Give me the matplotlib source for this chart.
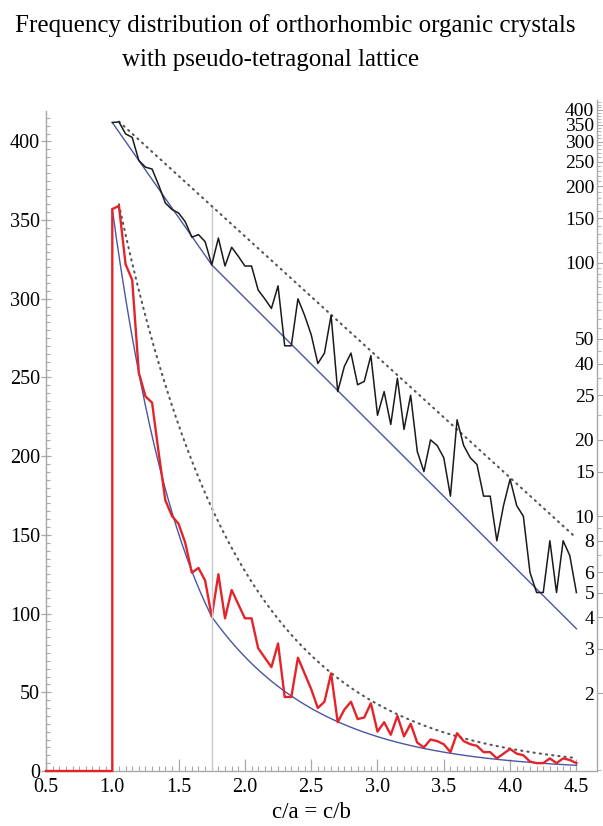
import numpy as np
import matplotlib.pyplot as plt
from matplotlib.ticker import FixedLocator, NullFormatter

plt.rcParams['font.family'] = ['Liberation Serif', 'DejaVu Serif']

# histogram bins of c/a (step 0.05) and counts per bin
c_over_a = np.round(np.arange(1.0, 4.5001, 0.05), 2)
counts = [357, 359, 322, 312, 253, 238, 234, 202, 172, 162,
          157, 145, 126, 129, 121, 98, 125, 97, 115, 106,
          97, 97, 78, 72, 66, 81, 47, 47, 72, 62,
          52, 40, 44, 62, 31, 39, 44, 33, 34, 43,
          25, 31, 23, 35, 22, 30, 18, 15, 20, 19,
          17, 12, 24, 19, 17, 16, 12, 12, 8, 11,
          14, 11, 10, 6, 5, 5, 8, 5, 8, 7, 5]
base_x = [0.5, 1.0]
base_n = [0, 0]

# exponential fit (two regimes split at c/a = 1.75) and upper envelope
fit_x = [1.0, 1.75, 4.5]
fit_n = [357, 98, 3.6]
upper_x = [1.05, 4.5]
upper_n = [360, 8.2]
split = 1.75

right_ticks = [2, 3, 4, 5, 6, 8, 10, 15, 20, 30, 40, 50, 100, 150, 200, 250, 300, 350, 400]
right_labels = ['2', '3', '4', '5', '6', '8', '10', '15', '20', '25', '40', '50',
                '100', '150', '200', '250', '300', '350', '400']


def log_curve(xp, yp, n=400):
    xs = np.linspace(xp[0], xp[-1], n)
    return xs, 10 ** np.interp(xs, xp, np.log10(yp))


red = '#e3242b'
blue = '#4b55a3'
gray = '#a8a8a8'

fig = plt.figure(figsize=(6.03, 8.26), dpi=100)
ax = fig.add_axes([46 / 603, 55 / 826, 551 / 603, 671 / 826])
ax.set_xlim(0.5, 0.5 + 551 / 132.6)
ax.set_ylim(0, 671 / 1.574)

ax2 = ax.twinx()
ax2.set_yscale('log')
ax2.set_ylim(0.989, 438)

# linear plot
fx, fn = log_curve(fit_x, fit_n)
ux, un = log_curve(upper_x, upper_n)
ax.plot(fx, fn, color=blue, lw=1.0, zorder=2)
ax.plot(ux, un, color='#555555', lw=1.5, ls=(0, (0.6, 2.4)),
        dash_capstyle='round', zorder=2)
ax.plot(base_x + list(c_over_a), base_n + list(counts), color=red, lw=1.7,
        zorder=3, clip_on=False)

# log plot
top = 10 ** np.interp(split, upper_x, np.log10(upper_n))
ax2.plot([split, split], [0.989, top], color='#c8c8c8', lw=1.0, zorder=1)
ax2.plot(fx, fn, color=blue, lw=1.0, zorder=2)
ax2.plot(ux, un, color='#555555', lw=1.5, ls=(0, (0.6, 2.4)),
         dash_capstyle='round', zorder=2)
ax2.plot(c_over_a, counts, color='#1a1a1a', lw=1.1, zorder=3)

# axes styling
for s in ['top', 'right']:
    ax.spines[s].set_visible(False)
for s in ['top', 'right', 'bottom']:
    ax2.spines[s].set_visible(False)
ax.spines['left'].set_bounds(0, 419)
for sp in [ax.spines['left'], ax.spines['bottom'], ax2.spines['left']]:
    sp.set_color(gray)
    sp.set_linewidth(1.0)

ax.set_xticks(np.arange(0.5, 4.51, 0.5))
ax.set_xticklabels([f'{v:.1f}' for v in np.arange(0.5, 4.51, 0.5)])
ax.xaxis.set_minor_locator(FixedLocator(np.arange(0.5, 4.501, 0.05)))
ax.set_yticks(np.arange(0, 401, 50))
ax.yaxis.set_minor_locator(FixedLocator(np.arange(0, 416, 5)))
ax.tick_params(axis='x', which='major', direction='in', length=8.5, width=0.9,
               color=gray, labelsize=14.5, pad=5)
ax.tick_params(axis='x', which='minor', direction='in', length=3.5, width=0.8,
               color=gray)
ax.tick_params(axis='y', which='major', direction='inout', length=6.5, width=0.9,
               color=gray, labelsize=14.5, pad=1)
ax.tick_params(axis='y', which='minor', direction='in', length=3, width=0.8,
               color=gray)

ax2.yaxis.tick_left()
ax2.spines['left'].set_position(('axes', 1.0))
ax2.yaxis.set_major_locator(FixedLocator(right_ticks))
ax2.set_yticklabels(right_labels)
minor = list(np.arange(1, 10, 1)) + list(np.arange(10, 100, 5)) + list(np.arange(100, 431, 10))
ax2.yaxis.set_minor_locator(FixedLocator(minor))
ax2.yaxis.set_minor_formatter(NullFormatter())
ax2.tick_params(axis='y', which='major', direction='in', length=4.5, width=0.8,
                color=gray, labelsize=14, pad=2)
ax2.tick_params(axis='y', which='minor', direction='in', length=3, width=0.6,
                color=gray)

fig.text(295 / 603, 1 - 32 / 826, 'Frequency distribution of orthorhombic organic crystals',
         ha='center', va='baseline', fontsize=18)
fig.text(271 / 603, 1 - 66 / 826, 'with pseudo-tetragonal lattice',
         ha='center', va='baseline', fontsize=18)
fig.text(311 / 603, 1 - 812 / 826, 'c/a = c/b', ha='center', va='center', fontsize=16.5)

fig.savefig('out.png', dpi=100)
